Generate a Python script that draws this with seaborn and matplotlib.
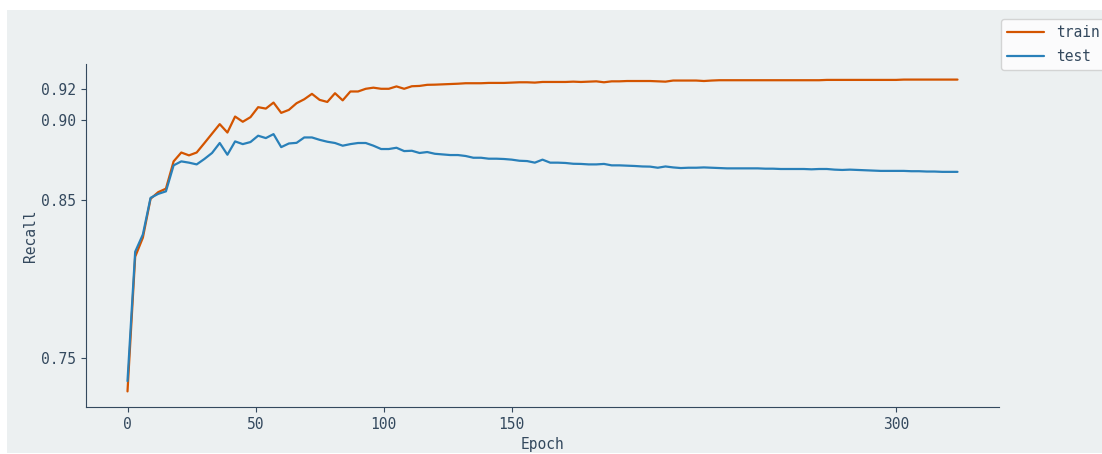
import matplotlib
matplotlib.use("Agg")
import matplotlib.pyplot as plt
from matplotlib.patches import Rectangle
from matplotlib.ticker import FormatStrFormatter
import pandas as pd
import seaborn as sns

# Recall logged every 3 epochs
epochs = list(range(0, 325, 3))

train_recall = [
    0.7290, 0.8140, 0.8260, 0.8505, 0.8547, 0.8569, 0.8741, 0.8797, 0.8779, 0.8797,
    0.8856, 0.8916, 0.8976, 0.8923, 0.9024, 0.8991, 0.9020, 0.9083, 0.9074, 0.9112,
    0.9047, 0.9066, 0.9108, 0.9133, 0.9167, 0.9129, 0.9116, 0.9171, 0.9126, 0.9182,
    0.9182, 0.9199, 0.9206, 0.9199, 0.9199, 0.9214, 0.9199, 0.9215, 0.9217, 0.9224,
    0.9225, 0.9227, 0.9229, 0.9231, 0.9234, 0.9234, 0.9234, 0.9236, 0.9236, 0.9236,
    0.9238, 0.9240, 0.9240, 0.9238, 0.9242, 0.9242, 0.9242, 0.9242, 0.9244, 0.9242,
    0.9244, 0.9246, 0.9240, 0.9246, 0.9246, 0.9248, 0.9248, 0.9248, 0.9248, 0.9246,
    0.9244, 0.9251, 0.9251, 0.9251, 0.9251, 0.9248, 0.9251,
    0.9253, 0.9253, 0.9253, 0.9253, 0.9253, 0.9253, 0.9253, 0.9253, 0.9253, 0.9253,
    0.9253, 0.9253, 0.9253, 0.9253,
    0.9255, 0.9255, 0.9255, 0.9255, 0.9255, 0.9255, 0.9255, 0.9255, 0.9255, 0.9255,
    0.9257, 0.9257, 0.9257, 0.9257, 0.9257, 0.9257, 0.9257, 0.9257,
]

test_recall = [
    0.7355, 0.8171, 0.8280, 0.8511, 0.8536, 0.8552, 0.8716, 0.8741, 0.8733, 0.8722,
    0.8756, 0.8794, 0.8857, 0.8783, 0.8867, 0.8850, 0.8863, 0.8903, 0.8888, 0.8913,
    0.8831, 0.8854, 0.8858, 0.8892, 0.8892, 0.8877, 0.8865, 0.8857, 0.8840, 0.8850,
    0.8857, 0.8857, 0.8840, 0.8819, 0.8819, 0.8827, 0.8806, 0.8808, 0.8794, 0.8800,
    0.8789, 0.8785, 0.8781, 0.8781, 0.8775, 0.8764, 0.8764, 0.8758, 0.8758, 0.8756,
    0.8752, 0.8745, 0.8743, 0.8733, 0.8752, 0.8733, 0.8733, 0.8731, 0.8726, 0.8725,
    0.8722, 0.8722, 0.8725, 0.8716, 0.8716, 0.8714, 0.8712, 0.8709, 0.8708, 0.8701,
    0.8709, 0.8703, 0.8699, 0.8701, 0.8701, 0.8703, 0.8701, 0.8699, 0.8697, 0.8697,
    0.8697, 0.8697, 0.8697, 0.8695, 0.8695, 0.8693, 0.8693, 0.8693, 0.8693, 0.8691,
    0.8693, 0.8693, 0.8689, 0.8687, 0.8689, 0.8687, 0.8685, 0.8683, 0.8681, 0.8681,
    0.8681, 0.8681, 0.8679, 0.8679, 0.8677, 0.8677, 0.8675, 0.8675, 0.8675,
]

series_names = ["train", "test"]
series_colors = ["#D35400", "#2980B9"]
x_ticks = [0, 50, 100, 150, 300]
y_ticks = [0.75, 0.85, 0.90, 0.92]

BG = "#ECF0F1"
INK = "#34495E"

sns.set_style("ticks", rc={
    "axes.facecolor": BG,
    "axes.edgecolor": INK,
    "axes.labelcolor": INK,
    "xtick.color": INK,
    "ytick.color": INK,
    "text.color": INK,
})
plt.rcParams["font.family"] = ["DejaVu Sans Mono", "DejaVu Sans"]
plt.rcParams["font.size"] = 10.5

W, H = 1102, 454
fig = plt.figure(figsize=(W / 100, H / 100), dpi=100, facecolor="white")
fig.patches.append(Rectangle((7 / W, 0.7 / H), 1.0, (444.3 - 0.7) / H,
                             transform=fig.transFigure, facecolor=BG,
                             edgecolor="none", zorder=-10))

ax = fig.add_axes([86 / W, 47 / H, 913 / W, 343 / H])

n = len(epochs)
df = pd.DataFrame({
    "Epoch": epochs + epochs,
    "Recall": train_recall + test_recall,
    "split": [series_names[0]] * n + [series_names[1]] * n,
})

sns.lineplot(data=df, x="Epoch", y="Recall", hue="split",
             hue_order=series_names,
             palette=dict(zip(series_names, series_colors)),
             linewidth=1.6, ax=ax)

ax.set_xticks(x_ticks)
ax.set_yticks(y_ticks)
ax.yaxis.set_major_formatter(FormatStrFormatter("%.2f"))
ax.tick_params(labelsize=10.5, colors=INK)
ax.set_xlabel("Epoch", fontsize=10.5)
ax.set_ylabel("Recall", fontsize=10.5, labelpad=2)
sns.despine(ax=ax)

handles, labels = ax.get_legend_handles_labels()
ax.legend(handles, labels, loc="upper left",
          bbox_to_anchor=(1000.7 / W, (H - 19) / H),
          bbox_transform=fig.transFigure, borderaxespad=0,
          handlelength=2.6, labelspacing=0.62, fontsize=10.5, frameon=True,
          facecolor="white", framealpha=0.8, edgecolor="#CCCCCC")

fig.savefig("out.png", dpi=100, facecolor="white")
